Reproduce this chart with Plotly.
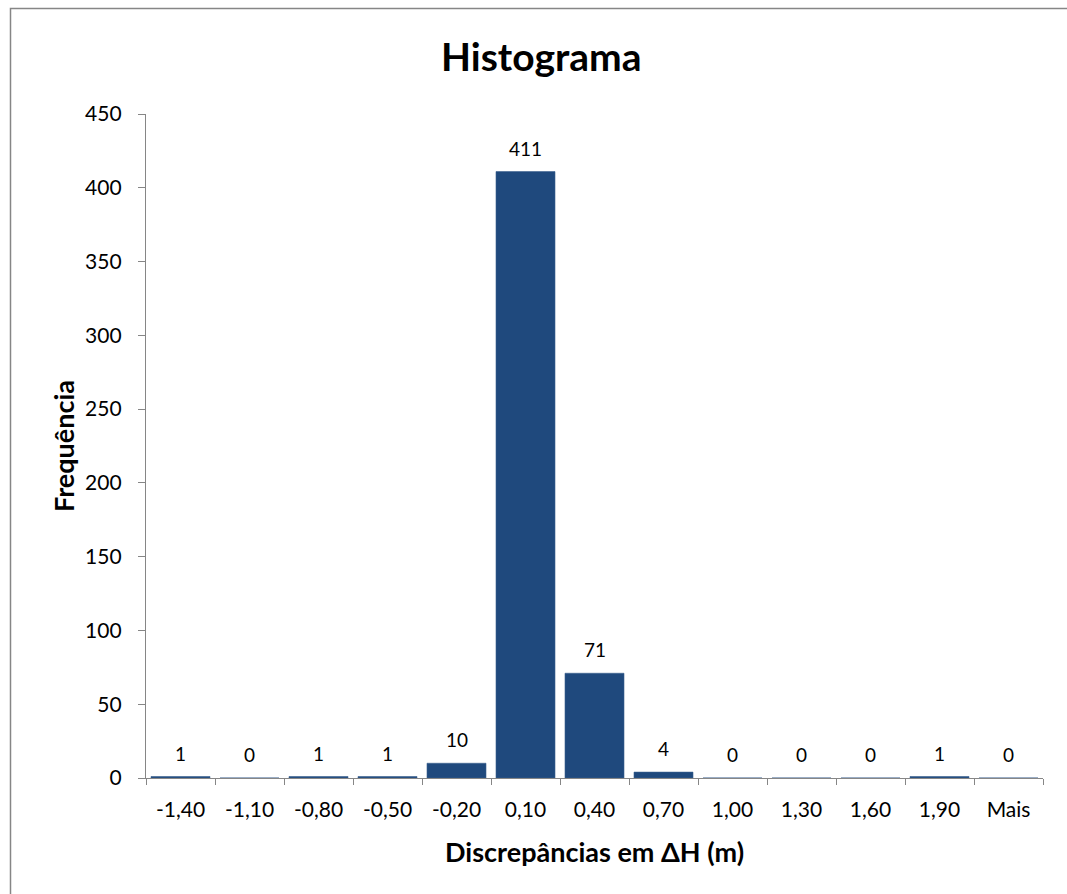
import plotly.graph_objects as go

# Histogram bins (upper limits) and frequencies
bins = ["-1,40", "-1,10", "-0,80", "-0,50", "-0,20", "0,10", "0,40",
        "0,70", "1,00", "1,30", "1,60", "1,90", "Mais"]
freq = [1, 0, 1, 1, 10, 411, 71, 4, 0, 0, 0, 1, 0]

y_ticks = list(range(0, 451, 50))

FONT = "Lato, Calibri, Carlito, sans-serif"
BAR = "#1F497D"
AXIS = "#868686"

W, H = 1067, 894
L, R, T, B = 146, 24, 114, 116
pw, ph = W - L - R, H - T - B


def px_x(x):
    return (x - L) / pw


def px_y(y):
    return (H - B - y) / ph


fig = go.Figure(
    go.Bar(
        x=bins,
        y=freq,
        marker=dict(color=BAR, line=dict(color="#3A5F8F", width=0.6)),
        hoverinfo="x+y",
    )
)

# value labels above each bar
for b, f in zip(bins, freq):
    fig.add_annotation(
        x=b, y=f, xref="x", yref="y", text=str(f), showarrow=False,
        yanchor="bottom", yshift=10,
        font=dict(family=FONT, size=19, color="#000000"),
    )

# chart title and axis titles
fig.add_annotation(
    x=px_x(541), y=px_y(56), xref="paper", yref="paper",
    text="<b>Histograma</b>", showarrow=False,
    xanchor="center", yanchor="middle",
    font=dict(family=FONT, size=39, color="#000000"),
)
fig.add_annotation(
    x=px_x(594), y=px_y(851), xref="paper", yref="paper",
    text="<b>Discrepâncias em ΔH (m)</b>", showarrow=False,
    xanchor="center", yanchor="middle",
    font=dict(family=FONT, size=27, color="#000000"),
)
fig.add_annotation(
    x=px_x(63), y=px_y(446), xref="paper", yref="paper",
    text="<b>Frequência</b>", showarrow=False, textangle=-90,
    xanchor="center", yanchor="middle",
    font=dict(family=FONT, size=27, color="#000000"),
)

# chart-area frame
fig.add_shape(
    type="rect", xref="paper", yref="paper",
    x0=px_x(10.5), y0=px_y(8.5), x1=px_x(W + 20), y1=px_y(H + 20),
    line=dict(color=AXIS, width=1.5), fillcolor="rgba(0,0,0,0)", layer="below",
)

fig.update_layout(
    width=W, height=H,
    margin=dict(l=L, r=R, t=T, b=B, pad=0),
    paper_bgcolor="white", plot_bgcolor="white",
    bargap=0.145,
    showlegend=False,
    font=dict(family=FONT, size=21, color="#000000"),
)
fig.update_xaxes(
    type="category", showline=True, linecolor=AXIS, linewidth=1.3,
    ticks="outside", tickson="boundaries", ticklen=6, tickcolor=AXIS,
    tickwidth=1.3, showgrid=False, zeroline=False,
    tickfont=dict(family=FONT, size=21), ticklabelstandoff=13,
)
fig.update_yaxes(
    range=[0, 450], tickvals=y_ticks, showline=True, linecolor=AXIS,
    linewidth=1.3, ticks="outside", ticklen=7, tickcolor=AXIS, tickwidth=1.3,
    showgrid=False, zeroline=False,
    tickfont=dict(family=FONT, size=21), ticklabelstandoff=12,
)

fig.write_html("out.html")
